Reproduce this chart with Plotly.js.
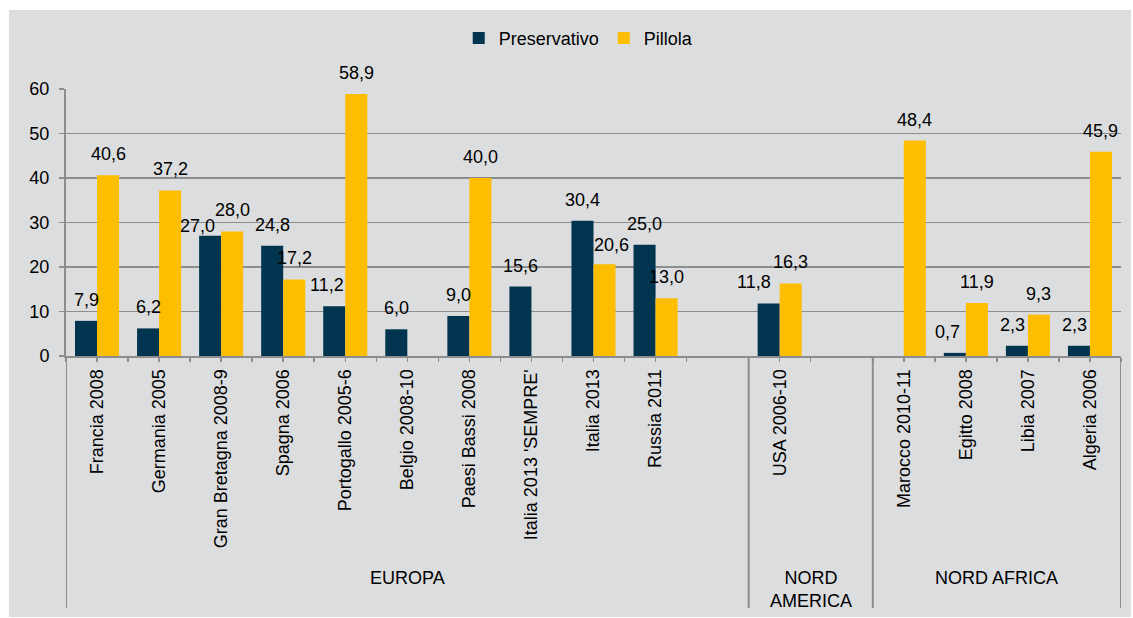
<!DOCTYPE html>
<html>
<head>
<meta charset="utf-8">
<script src="https://cdn.plot.ly/plotly-3.0.1.min.js"></script>
<style>
  html, body { margin: 0; padding: 0; background: #ffffff; }
  #chart { position: absolute; left: 9px; top: 10px; width: 1122px; height: 607px; }
</style>
</head>
<body>
<div id="chart"></div>
<script>
// ---- data ----
const categories = [
  "Francia 2008", "Germania 2005", "Gran Bretagna 2008-9", "Spagna 2006",
  "Portogallo 2005-6", "Belgio 2008-10", "Paesi Bassi 2008", "Italia 2013 'SEMPRE'",
  "Italia 2013", "Russia 2011", "",
  "USA 2006-10", "",
  "Marocco 2010-11", "Egitto 2008", "Libia 2007", "Algeria 2006"
];
const groups = ["EUROPA", "NORD<br>AMERICA", "NORD AFRICA"];
const groupSizes = [11, 2, 4];
const preservativo = [7.9, 6.2, 27.0, 24.8, 11.2, 6.0, 9.0, 15.6, 30.4, 25.0, null, 11.8, null, null, 0.7, 2.3, 2.3];
const pillola = [40.6, 37.2, 28.0, 17.2, 58.9, null, 40.0, null, 20.6, 13.0, null, 16.3, null, 48.4, 11.9, 9.3, 45.9];
const seriesNames = ["Preservativo", "Pillola"];
const yTicks = [0, 10, 20, 30, 40, 50, 60];

// ---- style ----
const colors = ["#01344f", "#fdbd00"];
const bg = "#dcdddf";
const lineCol = "#8d8d8d";
const FONT = "Liberation Sans, Arial, sans-serif";
const FS = 18;
const BARGAP = 0.29;
// manual label nudges [dx px, dy px] (as in the original, hand-moved labels)
const labelNudge = {
  "0|2": [-13, -11], "0|4": [-7, 0], "1|8": [7, -2], "0|11": [-15, 0],
  "0|14": [-7, 0], "0|15": [-4, 0], "0|16": [-4, 0]
};

const idx = categories.map((c, i) => i);
const fmt = v => v.toFixed(1).replace(".", ",");

const traces = [preservativo, pillola].map((vals, s) => ({
  type: "bar",
  name: seriesNames[s],
  x: idx,
  y: vals,
  marker: { color: colors[s] },
  hoverinfo: "skip"
}));

const annotations = [];
const half = (1 - BARGAP) / 4;
[preservativo, pillola].forEach((vals, s) => {
  vals.forEach((v, i) => {
    if (v === null) return;
    const n = labelNudge[s + "|" + i] || [0, 0];
    annotations.push({
      x: i + (s === 0 ? -half : half), y: v, xref: "x", yref: "y",
      text: fmt(v), showarrow: false, xanchor: "center", yanchor: "middle",
      xshift: n[0], yshift: 21 + n[1],
      font: { family: FONT, size: FS, color: "#000" }
    });
  });
});

// group labels + dividers
const shapes = [];
let start = -0.5;
const bottomY = -(611 - 356) / 270;
shapes.push({ type: "line", xref: "x", yref: "paper", x0: -0.5, x1: -0.5, y0: 0, y1: bottomY, line: { color: lineCol, width: 2 } });
groups.forEach((g, k) => {
  const end = start + groupSizes[k];
  annotations.push({
    x: (start + end) / 2, y: 0, xref: "x", yref: "paper",
    text: g, showarrow: false, xanchor: "center", yanchor: "top",
    yshift: -210,
    font: { family: FONT, size: FS, color: "#000" }
  });
  shapes.push({ type: "line", xref: "x", yref: "paper", x0: end, x1: end, y0: 0, y1: bottomY, line: { color: lineCol, width: 2 } });
  start = end;
});

const tickvals = idx.filter(i => categories[i] !== "");
const ticktext = tickvals.map(i => categories[i]);
const boundaries = [];
for (let i = 0; i <= categories.length; i++) boundaries.push(i - 0.5);

const layout = {
  width: 1122, height: 607,
  margin: { l: 57, r: 10, t: 76, b: 261, pad: 0 },
  paper_bgcolor: bg, plot_bgcolor: bg,
  barmode: "group", bargap: BARGAP, bargroupgap: 0,
  separators: ",.",
  font: { family: FONT, size: FS, color: "#000" },
  showlegend: true,
  legend: {
    orientation: "h", x: 0.486, xanchor: "center", y: 1.19, yanchor: "middle",
    font: { family: FONT, size: 18, color: "#000" }, bgcolor: "rgba(0,0,0,0)",
    itemwidth: 30, traceorder: "normal"
  },
  xaxis: {
    type: "linear", range: [-0.5, categories.length - 0.5],
    tickmode: "array", tickvals: tickvals, ticktext: ticktext, tickangle: -90,
    ticks: "outside", ticklen: 4, tickcolor: lineCol, tickwidth: 1.5,
    minor: { tickmode: "array", tickvals: boundaries, ticks: "outside", ticklen: 4, tickcolor: lineCol, tickwidth: 1.5, showgrid: false },
    showline: true, linecolor: lineCol, linewidth: 2,
    showgrid: false, zeroline: false, fixedrange: true,
    tickfont: { family: FONT, size: FS, color: "#000" }
  },
  yaxis: {
    range: [0, 60], tickmode: "array", tickvals: yTicks, ticktext: yTicks.map(String),
    showgrid: true, gridcolor: lineCol, gridwidth: 1.5,
    showline: true, linecolor: lineCol, linewidth: 2,
    ticks: "outside", ticklen: 5, tickcolor: lineCol, tickwidth: 1.5,
    ticklabelstandoff: 6,
    zeroline: false, fixedrange: true,
    tickfont: { family: FONT, size: FS, color: "#000" }
  },
  annotations: annotations,
  shapes: shapes
};

Plotly.newPlot("chart", traces, layout, { displayModeBar: false, staticPlot: true });
</script>
</body>
</html>
